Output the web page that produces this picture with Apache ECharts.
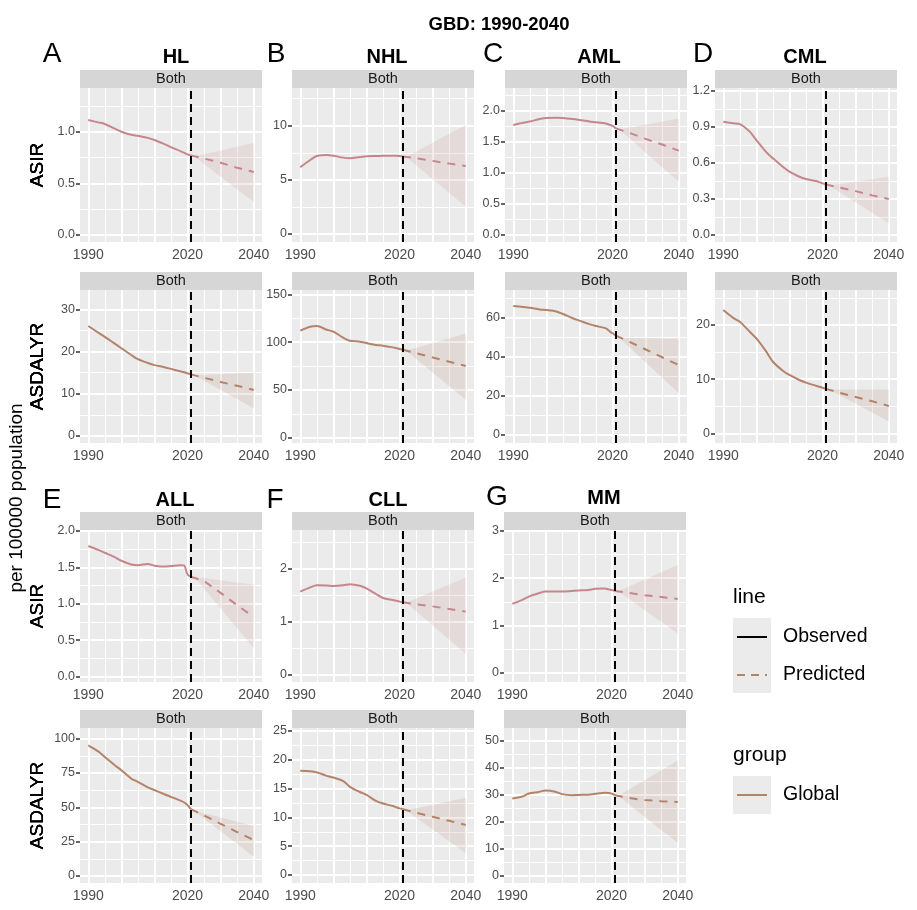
<!DOCTYPE html>
<html lang="en">
<head>
  <meta charset="UTF-8">
  <title>GBD: 1990-2040</title>
  <script src="https://cdn.jsdelivr.net/npm/echarts@6/dist/echarts.min.js"></script>
  <style>html,body{margin:0;padding:0;background:#fff}</style>
</head>
<body>
  <div id="main" style="width:917px;height:910px;"></div>
  <script>
    // ---- data ----
    var diseases = ['HL', 'NHL', 'AML', 'CML', 'ALL', 'CLL', 'MM']
    var letters = ['A', 'B', 'C', 'D', 'E', 'F', 'G']
    var metrics = ['ASIR', 'ASDALYR']
    var obsYears = [1990, 1993, 1995, 1998, 2000, 2003, 2005, 2008, 2010, 2013, 2015, 2018, 2019, 2020, 2021]
    var predYears = [2021, 2025, 2030, 2035, 2040]
    var ribYears = [2022, 2040]
    var cutYear = 2021
    var xShownLabels = [1990, 2020, 2040]

    // observed ASIR
    var asirObs = [
      [1.113, 1.09, 1.075, 1.03, 1.0, 0.97, 0.96, 0.94, 0.92, 0.88, 0.85, 0.81, 0.795, 0.78, 0.77],
      [6.16, 6.83, 7.2, 7.3, 7.23, 7.05, 7.0, 7.1, 7.17, 7.2, 7.22, 7.22, 7.22, 7.2, 7.15],
      [1.774, 1.81, 1.83, 1.87, 1.887, 1.89, 1.887, 1.87, 1.855, 1.83, 1.82, 1.8, 1.78, 1.76, 1.72],
      [0.943, 0.93, 0.923, 0.86, 0.79, 0.69, 0.638, 0.568, 0.527, 0.485, 0.466, 0.449, 0.44, 0.43, 0.42],
      [1.793, 1.74, 1.7, 1.64, 1.59, 1.54, 1.53, 1.546, 1.523, 1.51, 1.518, 1.53, 1.525, 1.4, 1.37],
      [1.57, 1.65, 1.69, 1.685, 1.677, 1.69, 1.71, 1.68, 1.63, 1.52, 1.45, 1.41, 1.395, 1.38, 1.37],
      [1.455, 1.54, 1.61, 1.68, 1.716, 1.716, 1.716, 1.73, 1.74, 1.75, 1.773, 1.78, 1.765, 1.75, 1.73]
    ]
    // observed ASDALYR
    var dalyObs = [
      [26.07, 24.5, 23.5, 21.9, 20.8, 19.2, 18.2, 17.3, 16.8, 16.3, 15.9, 15.3, 15.1, 14.85, 14.6],
      [112, 116, 116.8, 113, 110.9, 104.6, 101.5, 100.5, 99, 97, 96.3, 94.5, 93.7, 92.8, 92],
      [65.8, 65.3, 64.9, 64, 63.7, 63, 61.7, 59.5, 58.3, 56.5, 55.5, 54.3, 53, 51.8, 50.6],
      [22.75, 21.3, 20.6, 18.75, 17.5, 15.06, 13.2, 11.55, 10.76, 9.83, 9.34, 8.78, 8.6, 8.41, 8.2],
      [95.1, 90.7, 86.6, 80.6, 77, 70.9, 68.5, 64.5, 62.5, 59.5, 57.6, 54.7, 53.5, 51.6, 48.7],
      [18.08, 18.0, 17.8, 17.2, 16.9, 16.3, 15.3, 14.4, 13.9, 12.8, 12.4, 11.96, 11.75, 11.55, 11.4],
      [28.55, 29.3, 30.4, 31.0, 31.5, 31.1, 30.2, 29.8, 29.9, 30.0, 30.3, 30.7, 30.6, 30.4, 29.8]
    ]
    // predicted
    var asirPred = [
      [0.77, 0.74, 0.70, 0.65, 0.61],
      [7.15, 7.0, 6.75, 6.5, 6.28],
      [1.72, 1.65, 1.55, 1.46, 1.36],
      [0.42, 0.395, 0.365, 0.33, 0.30],
      [1.37, 1.31, 1.15, 0.98, 0.82],
      [1.37, 1.33, 1.29, 1.24, 1.19],
      [1.73, 1.69, 1.64, 1.60, 1.56]
    ]
    var dalyPred = [
      [14.6, 13.8, 12.8, 11.9, 10.9],
      [92, 88.5, 84, 79.5, 75],
      [50.6, 47.5, 43.5, 39.5, 35.5],
      [8.2, 7.5, 6.7, 5.9, 5.04],
      [48.7, 44, 38, 32, 26.1],
      [11.4, 10.8, 10.1, 9.4, 8.67],
      [29.8, 28.8, 28.0, 27.6, 27.3]
    ]
    // uncertainty ribbon (at ribYears)
    var asirLo = [[0.76, 0.32], [7.1, 2.52], [1.70, 0.86], [0.41, 0.097], [1.37, 0.39], [1.36, 0.385], [1.72, 0.83]]
    var asirHi = [[0.76, 0.89], [7.1, 10.06], [1.70, 1.88], [0.41, 0.485], [1.37, 1.26], [1.36, 1.84], [1.72, 2.28]]
    var dalyLo = [[14.4, 6.56], [91, 39.4], [49.5, 21], [8.1, 2.15], [47.5, 14], [11.2, 3.76], [29.5, 12.2]]
    var dalyHi = [[14.4, 15.0], [91, 109], [49.5, 49], [8.1, 8.1], [47.5, 36.3], [11.2, 13.4], [29.5, 42.6]]

    // y axis limits [min, max, tick step]
    var asirAxis = [[-0.068, 1.423, 0.5], [-0.74, 13.48, 5], [-0.113, 2.371, 0.5], [-0.058, 1.223, 0.3], [-0.073, 2.012, 0.5], [-0.146, 2.74, 1], [-0.2, 3.02, 1]]
    var dalyAxis = [[-1.66, 34.6, 10], [-5.5, 154.5, 50], [-4.46, 74, 20], [-1.8, 26.45, 10], [-5.1, 107.7, 25], [-1.39, 25.5, 5], [-2.6, 54.6, 10]]
    var xMin = 1987.5, xMax = 2042.5

    // ---- layout ----
    var FONT = '"Liberation Sans", Arial, sans-serif'
    var colTop = [80, 292, 505, 715]
    var colBottom = [80, 292, 504]
    var PW = 182
    var rows = [
      { strip: 70, top: 88, bottom: 242 },
      { strip: 272, top: 290, bottom: 443 },
      { strip: 512, top: 530, bottom: 682 },
      { strip: 710, top: 728, bottom: 883 }
    ]
    var letterPos = [[52, 54], [276, 54], [493, 54], [703, 54], [52, 500], [275, 500], [497, 497]]
    var titlePos = [[176, 57], [387, 57], [599, 57], [805, 57], [175, 500], [388, 500], [604, 498]]
    var colors = { ASIR: '#C6868B', ASDALYR: '#B3836A' }

    var chart = echarts.init(document.getElementById('main'))
    var grids = [], xAxes = [], yAxes = [], series = [], graphics = []

    function txt(s, x, y, size, o) {
      o = o || {}
      graphics.push({
        type: 'text', x: x, y: y, rotation: o.rot || 0, silent: true,
        style: {
          text: s, x: 0, y: 0, fontSize: size, fontWeight: o.bold ? 'bold' : 'normal',
          fontFamily: FONT, fill: o.color || '#000', align: o.align || 'center', verticalAlign: 'middle'
        }
      })
    }

    var p = 0
    diseases.forEach(function (name, i) {
      var L = i < 4 ? colTop[i] : colBottom[i - 4]
      txt(letters[i], letterPos[i][0], letterPos[i][1], 28)
      txt(name, titlePos[i][0], titlePos[i][1], 20, { bold: true })

      metrics.forEach(function (metric, m) {
        var r = rows[(i < 4 ? 0 : 2) + m]
        var ax = m === 0 ? asirAxis[i] : dalyAxis[i]
        var obs = m === 0 ? asirObs[i] : dalyObs[i]
        var pred = m === 0 ? asirPred[i] : dalyPred[i]
        var lo = m === 0 ? asirLo[i] : dalyLo[i]
        var hi = m === 0 ? asirHi[i] : dalyHi[i]
        var col = colors[metric]
        var ymin = ax[0], ymax = ax[1], step = ax[2]
        var H = r.bottom - r.top
        var tmax = +(Math.floor(ymax / step + 1e-9) * step).toFixed(6)
        var dec = step < 1 ? 1 : 0
        var g = 2 * p, o = 2 * p + 1

        // strip
        graphics.push({ type: 'rect', silent: true, shape: { x: L, y: r.strip, width: PW, height: r.top - r.strip }, style: { fill: '#D6D6D6' } })
        txt('Both', L + PW / 2, (r.strip + r.top) / 2, 14.5, { color: '#1A1A1A' })

        // main panel
        grids.push({ left: L, top: r.top, width: PW, height: H, show: true, backgroundColor: '#EBEBEB', borderWidth: 0 })
        xAxes.push({ gridIndex: g, type: 'value', min: xMin, max: xMax, show: false })
        yAxes.push({ gridIndex: g, type: 'value', min: ymin, max: ymax, show: false })

        // overlay grid carrying the ticks and labels
        var oLeft = L + PW * (1990 - xMin) / (xMax - xMin)
        var oTop = r.top + H * (ymax - tmax) / (ymax - ymin)
        var oH = H * tmax / (ymax - ymin)
        grids.push({ left: oLeft, top: oTop, width: PW * 50 / (xMax - xMin), height: oH, show: false })
        xAxes.push({
          gridIndex: o, type: 'value', min: 1990, max: 2040, interval: 10, position: 'bottom',
          offset: r.bottom - (oTop + oH),
          axisLine: { show: false }, splitLine: { show: false },
          axisTick: { show: true, length: 4, lineStyle: { color: '#333', width: 1.5 } },
          axisLabel: {
            margin: 6, color: '#4D4D4D', fontSize: 14, fontFamily: FONT,
            formatter: function (v) { return xShownLabels.indexOf(v) >= 0 ? String(v) : '' }
          }
        })
        yAxes.push({
          gridIndex: o, type: 'value', min: 0, max: tmax, interval: step, position: 'left',
          offset: oLeft - L,
          axisLine: { show: false }, splitLine: { show: false },
          axisTick: { show: true, length: 4, lineStyle: { color: '#333', width: 1.5 } },
          axisLabel: {
            margin: 5, color: '#4D4D4D', fontSize: 12.5, fontFamily: FONT,
            formatter: function (v) { return v.toFixed(dec) }
          }
        })

        // white grid lines (major / minor)
        var gl = []
        var half = step / 2
        for (var k = Math.ceil(ymin / half); k * half <= ymax; k++) {
          gl.push({ yAxis: +(k * half).toFixed(6), lineStyle: { width: k % 2 === 0 ? 2 : 1 } })
        }
        for (var yr = Math.ceil(xMin / 5) * 5; yr <= xMax; yr += 5) {
          gl.push({ xAxis: yr, lineStyle: { width: yr % 10 === 0 ? 2 : 1 } })
        }
        series.push({
          type: 'line', xAxisIndex: g, yAxisIndex: g, data: [], silent: true,
          markLine: {
            z: 1, silent: true, symbol: ['none', 'none'], label: { show: false },
            lineStyle: { color: '#FFFFFF', type: 'solid', opacity: 1 }, emphasis: { disabled: true },
            data: gl
          }
        })

        // ribbon as a polygon through the axes
        series.push({
          type: 'custom', xAxisIndex: g, yAxisIndex: g, z: 2, silent: true,
          data: ribYears.map(function (y, k) { return [y, lo[k], hi[k]] }),
          renderItem: function (params, api) {
            if (params.dataIndex !== 0) return null
            var pts = []
            ribYears.forEach(function (y, k) { pts.push(api.coord([y, hi[k]])) })
            for (var j = ribYears.length - 1; j >= 0; j--) pts.push(api.coord([ribYears[j], lo[j]]))
            return { type: 'polygon', shape: { points: pts }, style: { fill: col, opacity: 0.17 } }
          }
        })

        // observed and predicted lines
        series.push({
          type: 'line', xAxisIndex: g, yAxisIndex: g, z: 3, symbol: 'none', smooth: 0.3, silent: true,
          lineStyle: { color: col, width: 2 },
          data: obsYears.map(function (y, k) { return [y, obs[k]] })
        })
        series.push({
          type: 'line', xAxisIndex: g, yAxisIndex: g, z: 3, symbol: 'none', silent: true,
          lineStyle: { color: col, width: 2, type: [8, 7] },
          data: predYears.map(function (y, k) { return [y, pred[k]] })
        })

        // 2021 cut line
        series.push({
          type: 'line', xAxisIndex: g, yAxisIndex: g, data: [], silent: true,
          markLine: {
            z: 6, silent: true, symbol: ['none', 'none'], label: { show: false },
            lineStyle: { color: '#000', type: [8, 5], width: 2 }, emphasis: { disabled: true },
            data: [{ xAxis: cutYear }]
          }
        })

        // y-axis title
        txt(metric, 38, (r.top + r.bottom) / 2, 19, { rot: Math.PI / 2 })
        p++
      })
    })

    // overall titles
    txt('GBD: 1990-2040', 499, 25, 18.5, { bold: true })
    txt('per 100000 population', 17, 498, 19, { rot: Math.PI / 2 })

    // legend (drawn by hand in ggplot style)
    txt('line', 733, 597, 21, { align: 'left' })
    graphics.push({ type: 'rect', silent: true, shape: { x: 733, y: 618, width: 38, height: 75 }, style: { fill: '#EBEBEB' } })
    graphics.push({ type: 'line', silent: true, shape: { x1: 737, y1: 637, x2: 767, y2: 637 }, style: { stroke: '#000', lineWidth: 2 } })
    graphics.push({ type: 'line', silent: true, shape: { x1: 737, y1: 675, x2: 767, y2: 675 }, style: { stroke: colors.ASDALYR, lineWidth: 2, lineDash: [8, 6] } })
    txt('Observed', 783, 637, 19.5, { align: 'left' })
    txt('Predicted', 783, 675, 19.5, { align: 'left' })
    txt('group', 733, 755, 21, { align: 'left' })
    graphics.push({ type: 'rect', silent: true, shape: { x: 733, y: 776, width: 38, height: 38 }, style: { fill: '#EBEBEB' } })
    graphics.push({ type: 'line', silent: true, shape: { x1: 737, y1: 795, x2: 767, y2: 795 }, style: { stroke: colors.ASDALYR, lineWidth: 2 } })
    txt('Global', 783, 795, 19.5, { align: 'left' })

    var option = {
      animation: false,
      backgroundColor: '#fff',
      textStyle: { fontFamily: FONT },
      grid: grids,
      xAxis: xAxes,
      yAxis: yAxes,
      series: series,
      graphic: { elements: graphics }
    }
    chart.setOption(option)
  </script>
</body>
</html>
